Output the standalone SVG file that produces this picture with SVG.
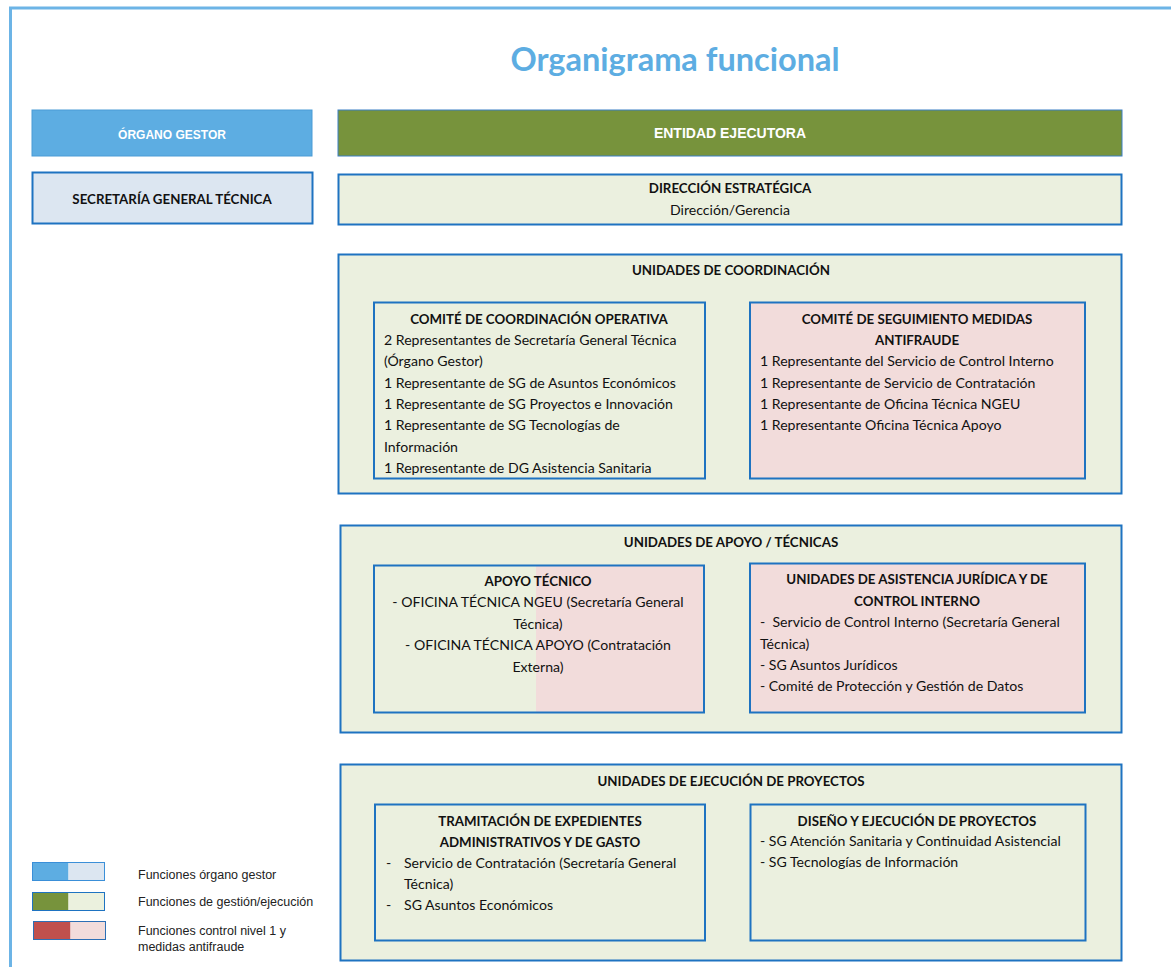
<svg xmlns="http://www.w3.org/2000/svg" width="1171" height="967" viewBox="0 0 1171 967">
<style>
.frame{fill:none;stroke:#6CB4E6;stroke-width:3}
.box{stroke:#1E73C1;stroke-width:2}
.g{fill:#EBF0DF}
.p{fill:#F2DCDB}
.t{font-family:Lato,"Open Sans",sans-serif;font-size:14.1px;fill:#111}
.b{font-weight:bold;font-size:13.3px}
.c{text-anchor:middle}
.a{font-family:"Liberation Sans",Arial,sans-serif}
.leg{font-family:"Liberation Sans",Arial,sans-serif;font-size:12.5px;fill:#222}
.title{font-family:Lato,"Open Sans",sans-serif;font-size:32.5px;font-weight:bold;fill:#5DADE2;text-anchor:middle}
</style>
<rect width="1171" height="967" fill="#fff"/>
<path class="frame" d="M10.5 990 V8 H1200"/>
<text x="675" y="71" class="title">Organigrama funcional</text>

<g id="organo-gestor">
<rect x="32" y="110" width="280" height="46" fill="#5DADE2" stroke="#4A9BD6" stroke-width="1"/>
<text x="172" y="139" class="a c" font-weight="bold" font-size="12" fill="#fff">ÓRGANO GESTOR</text>
</g>
<g id="sgt">
<rect x="32.5" y="172.5" width="280" height="51" fill="#DCE6F1" class="box"/>
<text x="172" y="204" class="t b c">SECRETARÍA GENERAL TÉCNICA</text>
</g>
<g id="entidad-ejecutora">
<rect x="338" y="110" width="784" height="46" fill="#77933C" stroke="#3B7FC4" stroke-width="1"/>
<text x="730" y="138" class="a c" font-weight="bold" font-size="14" fill="#fff">ENTIDAD EJECUTORA</text>
</g>
<g id="direccion">
<rect x="338.5" y="174.5" width="783" height="50" class="box g"/>
<text x="730" y="193" class="t b c">DIRECCIÓN ESTRATÉGICA</text>
<text x="730" y="215" class="t c">Dirección/Gerencia</text>
</g>

<g id="unidades-coordinacion">
<rect x="338.5" y="254.5" width="783" height="239" class="box g"/>
<text x="731" y="275" class="t b c">UNIDADES DE COORDINACIÓN</text>
</g>
<g id="comite-coordinacion">
<rect x="374" y="302.5" width="331" height="176" class="box g"/>
<text x="539" y="324" class="t b c">COMITÉ DE COORDINACIÓN OPERATIVA</text>
<text x="384" y="345" class="t">2 Representantes de Secretaría General Técnica</text>
<text x="384" y="366" class="t">(Órgano Gestor)</text>
<text x="384" y="388" class="t">1 Representante de SG de Asuntos Económicos</text>
<text x="384" y="409" class="t">1 Representante de SG Proyectos e Innovación</text>
<text x="384" y="430" class="t">1 Representante de SG Tecnologías de</text>
<text x="384" y="452" class="t">Información</text>
<text x="384" y="473" class="t">1 Representante de DG Asistencia Sanitaria</text>
</g>
<g id="comite-seguimiento">
<rect x="750" y="302.5" width="335" height="176" class="box p"/>
<text x="917" y="324" class="t b c">COMITÉ DE SEGUIMIENTO MEDIDAS</text>
<text x="917" y="345" class="t b c">ANTIFRAUDE</text>
<text x="760" y="366" class="t">1 Representante del Servicio de Control Interno</text>
<text x="760" y="388" class="t">1 Representante de Servicio de Contratación</text>
<text x="760" y="409" class="t">1 Representante de Oficina Técnica NGEU</text>
<text x="760" y="430" class="t">1 Representante Oficina Técnica Apoyo</text>
</g>

<g id="unidades-apoyo">
<rect x="340.5" y="525.5" width="781" height="207" class="box g"/>
<text x="731" y="547" class="t b c">UNIDADES DE APOYO / TÉCNICAS</text>
</g>
<g id="apoyo-tecnico">
<rect x="374" y="565.5" width="330" height="147" class="g"/>
<rect x="536" y="565.5" width="168" height="147" class="p"/>
<rect x="374" y="565.5" width="330" height="147" class="box" fill="none"/>
<text x="538" y="586" class="t b c">APOYO TÉCNICO</text>
<text x="538" y="607" class="t c">- OFICINA TÉCNICA NGEU (Secretaría General</text>
<text x="538" y="629" class="t c">Técnica)</text>
<text x="538" y="650" class="t c">- OFICINA TÉCNICA APOYO (Contratación</text>
<text x="538" y="672" class="t c">Externa)</text>
</g>
<g id="asistencia-juridica">
<rect x="750" y="563.5" width="335" height="149" class="box p"/>
<text x="917" y="584" class="t b c">UNIDADES DE ASISTENCIA JURÍDICA Y DE</text>
<text x="917" y="606" class="t b c">CONTROL INTERNO</text>
<text x="760" y="627" class="t">-&#160; Servicio de Control Interno (Secretaría General</text>
<text x="760" y="649" class="t">Técnica)</text>
<text x="760" y="670" class="t">- SG Asuntos Jurídicos</text>
<text x="760" y="691" class="t">- Comité de Protección y Gestión de Datos</text>
</g>

<g id="unidades-ejecucion">
<rect x="340.5" y="764.5" width="781" height="196" class="box g"/>
<text x="731" y="786" class="t b c">UNIDADES DE EJECUCIÓN DE PROYECTOS</text>
</g>
<g id="tramitacion">
<rect x="375" y="804.5" width="330" height="136" class="box g"/>
<text x="540" y="826" class="t b c">TRAMITACIÓN DE EXPEDIENTES</text>
<text x="540" y="847" class="t b c">ADMINISTRATIVOS Y DE GASTO</text>
<text x="386" y="868" class="t">-</text>
<text x="404" y="868" class="t">Servicio de Contratación (Secretaría General</text>
<text x="404" y="889" class="t">Técnica)</text>
<text x="386" y="910" class="t">-</text>
<text x="404" y="910" class="t">SG Asuntos Económicos</text>
</g>
<g id="diseno">
<rect x="750.5" y="804.5" width="335" height="136" class="box g"/>
<text x="917" y="826" class="t b c">DISEÑO Y EJECUCIÓN DE PROYECTOS</text>
<text x="760" y="846" class="t">- SG Atención Sanitaria y Continuidad Asistencial</text>
<text x="760" y="867" class="t">- SG Tecnologías de Información</text>
</g>

<g id="legend">
<rect x="32.5" y="862.5" width="36" height="18" fill="#5DADE2"/>
<rect x="68.5" y="862.5" width="36" height="18" fill="#DCE6F1"/>
<rect x="32.5" y="862.5" width="72" height="18" fill="none" stroke="#3A8FD8" stroke-width="1"/>
<text x="138" y="879" class="leg">Funciones órgano gestor</text>
<rect x="32.5" y="892.5" width="36" height="18" fill="#77933C"/>
<rect x="68.5" y="892.5" width="36" height="18" fill="#EBF1DE"/>
<rect x="32.5" y="892.5" width="72" height="18" fill="none" stroke="#1E73C1" stroke-width="1"/>
<text x="138" y="906" class="leg">Funciones de gestión/ejecución</text>
<rect x="33.5" y="921.5" width="37" height="18" fill="#C0504D"/>
<rect x="70.5" y="921.5" width="35" height="18" fill="#F2DCDB"/>
<rect x="33.5" y="921.5" width="72" height="18" fill="none" stroke="#2C6FB5" stroke-width="1"/>
<text x="138" y="935" class="leg">Funciones control nivel 1 y</text>
<text x="138" y="951" class="leg">medidas antifraude</text>
</g>
</svg>
